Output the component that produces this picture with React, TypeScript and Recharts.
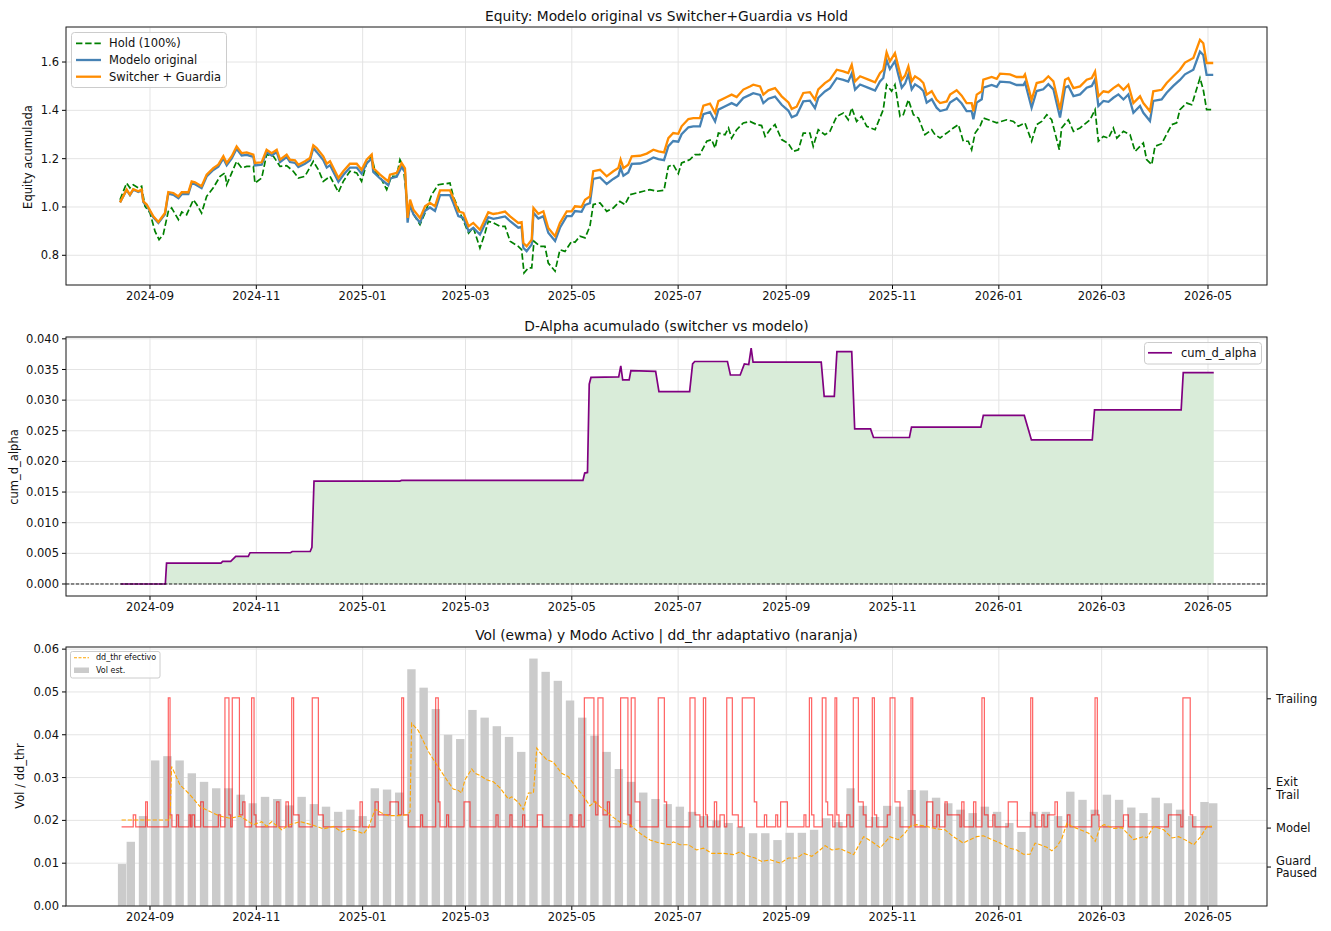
import React from 'react';
import { LineChart, ComposedChart, Line, Area, Bar, XAxis, YAxis, CartesianGrid, ReferenceLine } from 'recharts';

const FONT = "'DejaVu Sans', 'Liberation Sans', sans-serif";
const TXT = '#111111';

// x axis: days since 2024-09-01
const xTickDays = [0, 61, 122, 181, 242, 303, 365, 426, 487, 546, 607];
const xTickLabels = ['2024-09', '2024-11', '2025-01', '2025-03', '2025-05', '2025-07', '2025-09', '2025-11', '2026-01', '2026-03', '2026-05'];
const X_DOMAIN: [number, number] = [-48.19, 640.85];

// ---------- Panel 1: equity ----------
const eqTicks = [0.8, 1.0, 1.2, 1.4, 1.6];
const eqDays = [
  -17.2, -13.4, -11.5, -9.6, -6.7, -4.8, -3.8, -1.9, 1.9, 4.8,
  8.6, 10.5, 13.4, 16.3, 18.2, 22.0, 23.9, 25.8, 29.6, 32.5,
  36.3, 39.2, 42.1, 44.0, 46.9, 49.7, 52.6, 55.5, 59.3, 60.2,
  64.1, 66.9, 69.8, 72.7, 74.6, 78.4, 80.3, 83.2, 85.1, 88.9,
  91.8, 93.7, 95.6, 99.4, 101.4, 103.3, 108.1, 110.9, 114.7, 118.6,
  121.4, 124.3, 127.2, 128.1, 132.0, 136.7, 137.7, 141.5, 144.4, 146.3,
  147.8, 149.2, 151.1, 154.9, 157.8, 160.6, 163.5, 166.4, 172.1, 174.0,
  176.9, 179.8, 182.8, 185.5, 189.3, 191.2, 194.1, 197.0, 199.9, 203.7,
  206.6, 211.3, 213.2, 214.2, 216.1, 219.0, 220.0, 222.8, 225.7, 228.5,
  232.4, 235.2, 239.1, 241.9, 243.8, 247.6, 249.6, 252.4, 254.3, 258.2,
  262.0, 265.8, 268.7, 270.0, 271.6, 274.4, 276.4, 281.1, 285.0, 288.8,
  291.7, 294.9, 297.4, 300.2, 303.1, 305.0, 308.9, 311.7, 315.5, 317.5,
  321.3, 324.2, 326.1, 330.9, 333.7, 336.6, 340.4, 344.2, 346.1, 350.0,
  351.9, 354.8, 358.6, 362.4, 366.3, 368.2, 371.0, 374.8, 378.6, 381.5,
  383.4, 387.2, 390.1, 394.0, 397.8, 400.6, 402.6, 404.5, 407.4, 412.2,
  416.0, 418.8, 420.7, 422.6, 424.5, 427.4, 429.3, 431.3, 433.2, 435.1,
  437.0, 438.9, 441.8, 443.7, 445.6, 448.5, 451.3, 453.3, 457.1, 459.0,
  462.8, 465.7, 468.5, 471.4, 472.4, 474.3, 477.2, 478.1, 482.9, 485.8,
  487.7, 493.4, 497.2, 501.1, 502.0, 505.8, 508.7, 512.5, 515.4, 518.3,
  522.1, 525.0, 526.9, 529.8, 533.6, 537.4, 540.3, 542.2, 544.1, 547.0,
  549.9, 552.7, 555.6, 558.5, 561.3, 564.2, 568.0, 569.9, 573.7, 575.6,
  580.4, 583.3, 587.1, 590.9, 593.8, 598.6, 602.4, 604.3, 606.2, 610.0,
];
const switcherValues = [
  1.019, 1.072, 1.051, 1.074, 1.065, 1.072, 1.023, 1.010, 0.961, 0.938,
  0.975, 1.062, 1.058, 1.044, 1.061, 1.061, 1.106, 1.102, 1.086, 1.134,
  1.161, 1.175, 1.210, 1.182, 1.210, 1.251, 1.223, 1.226, 1.217, 1.182,
  1.185, 1.237, 1.223, 1.237, 1.196, 1.217, 1.196, 1.193, 1.175, 1.189,
  1.203, 1.255, 1.244, 1.210, 1.179, 1.189, 1.120, 1.148, 1.179, 1.179,
  1.154, 1.196, 1.217, 1.161, 1.134, 1.106, 1.134, 1.141, 1.182, 1.160,
  0.955, 1.030, 0.989, 0.954, 1.003, 1.017, 1.003, 1.069, 1.069, 1.037,
  0.982, 0.975, 0.920, 0.934, 0.906, 0.934, 0.978, 0.971, 0.975, 0.981,
  0.961, 0.934, 0.937, 0.851, 0.837, 0.865, 0.996, 0.972, 0.982, 0.913,
  0.879, 0.934, 0.982, 0.982, 1.003, 1.000, 1.030, 1.044, 1.148, 1.154,
  1.127, 1.148, 1.161, 1.196, 1.161, 1.175, 1.210, 1.212, 1.221, 1.237,
  1.230, 1.226, 1.285, 1.306, 1.303, 1.334, 1.364, 1.368, 1.368, 1.419,
  1.428, 1.389, 1.438, 1.455, 1.465, 1.455, 1.486, 1.499, 1.506, 1.499,
  1.465, 1.483, 1.492, 1.458, 1.433, 1.406, 1.415, 1.472, 1.475, 1.444,
  1.487, 1.513, 1.527, 1.568, 1.561, 1.554, 1.589, 1.520, 1.541, 1.527,
  1.516, 1.554, 1.568, 1.640, 1.603, 1.637, 1.582, 1.527, 1.544, 1.582,
  1.520, 1.541, 1.527, 1.513, 1.465, 1.479, 1.444, 1.430, 1.437, 1.465,
  1.483, 1.461, 1.430, 1.430, 1.396, 1.465, 1.479, 1.527, 1.538, 1.530,
  1.552, 1.549, 1.538, 1.538, 1.549, 1.444, 1.513, 1.520, 1.541, 1.520,
  1.403, 1.527, 1.534, 1.492, 1.499, 1.527, 1.534, 1.561, 1.458, 1.479,
  1.475, 1.492, 1.506, 1.485, 1.506, 1.430, 1.458, 1.430, 1.396, 1.479,
  1.485, 1.513, 1.541, 1.568, 1.598, 1.617, 1.692, 1.678, 1.596, 1.596,
];
const modelValues = [
  1.019, 1.070, 1.049, 1.072, 1.062, 1.068, 1.020, 1.006, 0.957, 0.934,
  0.970, 1.055, 1.050, 1.036, 1.053, 1.053, 1.098, 1.094, 1.078, 1.126,
  1.153, 1.167, 1.201, 1.173, 1.201, 1.241, 1.213, 1.216, 1.207, 1.172,
  1.175, 1.227, 1.213, 1.227, 1.186, 1.207, 1.186, 1.183, 1.165, 1.179,
  1.193, 1.244, 1.228, 1.194, 1.163, 1.173, 1.104, 1.132, 1.163, 1.163,
  1.138, 1.180, 1.201, 1.145, 1.118, 1.090, 1.118, 1.125, 1.166, 1.144,
  0.935, 1.011, 0.970, 0.935, 0.984, 0.998, 0.984, 1.049, 1.049, 1.017,
  0.962, 0.955, 0.900, 0.914, 0.886, 0.914, 0.958, 0.951, 0.955, 0.961,
  0.941, 0.914, 0.917, 0.831, 0.817, 0.845, 0.976, 0.952, 0.962, 0.893,
  0.859, 0.914, 0.962, 0.962, 0.983, 0.980, 1.008, 1.016, 1.116, 1.122,
  1.095, 1.116, 1.129, 1.162, 1.129, 1.143, 1.178, 1.180, 1.189, 1.205,
  1.198, 1.194, 1.252, 1.273, 1.270, 1.301, 1.330, 1.334, 1.334, 1.384,
  1.393, 1.354, 1.403, 1.420, 1.430, 1.420, 1.451, 1.464, 1.471, 1.464,
  1.430, 1.448, 1.457, 1.423, 1.398, 1.371, 1.380, 1.437, 1.440, 1.409,
  1.452, 1.478, 1.492, 1.533, 1.526, 1.519, 1.552, 1.486, 1.507, 1.493,
  1.482, 1.520, 1.534, 1.608, 1.571, 1.604, 1.549, 1.494, 1.511, 1.549,
  1.487, 1.508, 1.494, 1.480, 1.432, 1.446, 1.411, 1.397, 1.404, 1.432,
  1.450, 1.428, 1.397, 1.397, 1.363, 1.432, 1.446, 1.494, 1.505, 1.497,
  1.519, 1.516, 1.505, 1.505, 1.516, 1.411, 1.480, 1.487, 1.508, 1.487,
  1.370, 1.494, 1.501, 1.459, 1.466, 1.494, 1.501, 1.528, 1.418, 1.439,
  1.435, 1.452, 1.466, 1.445, 1.466, 1.390, 1.418, 1.390, 1.356, 1.439,
  1.445, 1.473, 1.501, 1.526, 1.549, 1.568, 1.643, 1.629, 1.547, 1.547,
];
const holdDays = [
  -17.2, -13.4, -11.5, -9.6, -6.7, -4.8, -2.9, 0, 2.9, 5.2,
  7.6, 10.5, 12.4, 16.3, 18.2, 21.0, 24.9, 26.8, 29.6, 32.5,
  36.3, 40.2, 43.0, 44.0, 46.9, 49.7, 52.6, 55.5, 59.3, 60.2,
  64.1, 66.9, 70.8, 74.6, 78.4, 82.2, 85.1, 88.9, 93.7, 96.6,
  99.4, 103.3, 108.1, 110.9, 114.7, 118.6, 121.4, 124.3, 127.2, 129.1,
  132.9, 135.8, 138.6, 141.5, 143.4, 145.3, 148.2, 149.2, 152.0, 154.9,
  157.8, 161.6, 165.4, 172.1, 174.0, 177.9, 182.8, 185.5, 189.3, 192.2,
  194.1, 197.0, 200.8, 203.7, 206.6, 211.3, 213.2, 214.6, 217.1, 219.0,
  220.3, 223.8, 226.6, 228.5, 232.4, 235.2, 238.1, 241.9, 243.8, 246.7,
  249.6, 252.4, 254.3, 258.2, 262.0, 265.8, 269.6, 272.5, 275.4, 279.2,
  283.0, 286.8, 290.7, 294.9, 297.4, 300.2, 303.1, 305.0, 309.8, 312.7,
  315.5, 319.4, 322.2, 324.2, 326.1, 329.9, 331.9, 333.7, 336.6, 340.4,
  344.2, 348.1, 350.9, 352.9, 355.7, 358.6, 362.4, 366.3, 369.1, 372.0,
  374.8, 378.6, 380.5, 383.4, 387.2, 390.1, 394.0, 397.8, 400.6, 402.6,
  405.4, 408.3, 411.2, 416.0, 420.7, 422.6, 425.5, 427.4, 430.3, 432.2,
  435.1, 438.0, 440.9, 442.7, 444.6, 448.5, 450.4, 453.3, 457.1, 460.9,
  463.8, 466.6, 469.5, 471.4, 473.4, 476.2, 478.1, 481.0, 485.8, 491.5,
  495.4, 498.2, 502.0, 505.8, 508.7, 511.6, 514.5, 517.3, 521.7, 523.0,
  526.9, 529.8, 533.6, 539.3, 542.2, 544.1, 547.0, 549.9, 552.7, 554.7,
  558.5, 562.3, 565.2, 568.0, 569.9, 571.8, 574.7, 576.6, 580.4, 586.2,
  589.0, 590.9, 594.8, 597.6, 598.6, 602.4, 604.3, 606.2, 610.0,
];
const holdValues = [
  1.030, 1.099, 1.079, 1.092, 1.079, 1.086, 1.003, 0.975, 0.899, 0.865,
  0.886, 0.982, 0.996, 0.948, 0.979, 0.968, 1.030, 1.010, 0.975, 1.044,
  1.079, 1.127, 1.141, 1.092, 1.141, 1.189, 1.161, 1.168, 1.168, 1.099,
  1.120, 1.217, 1.210, 1.168, 1.171, 1.148, 1.120, 1.127, 1.189, 1.154,
  1.106, 1.127, 1.061, 1.106, 1.148, 1.141, 1.106, 1.182, 1.210, 1.148,
  1.113, 1.072, 1.127, 1.127, 1.196, 1.168, 0.975, 1.003, 0.960, 0.927,
  0.975, 1.051, 1.092, 1.099, 1.044, 0.975, 0.892, 0.915, 0.830, 0.892,
  0.941, 0.934, 0.920, 0.920, 0.858, 0.837, 0.823, 0.727, 0.748, 0.748,
  0.858, 0.837, 0.837, 0.768, 0.734, 0.823, 0.816, 0.858, 0.854, 0.879,
  0.872, 0.920, 1.010, 1.017, 0.982, 0.996, 1.023, 1.010, 1.051, 1.058,
  1.065, 1.072, 1.065, 1.069, 1.168, 1.175, 1.138, 1.182, 1.196, 1.217,
  1.217, 1.272, 1.279, 1.244, 1.306, 1.299, 1.327, 1.285, 1.320, 1.348,
  1.354, 1.341, 1.337, 1.292, 1.320, 1.341, 1.279, 1.262, 1.230, 1.237,
  1.306, 1.306, 1.251, 1.320, 1.299, 1.313, 1.375, 1.389, 1.361, 1.410,
  1.354, 1.375, 1.334, 1.320, 1.403, 1.506, 1.479, 1.506, 1.375, 1.382,
  1.444, 1.382, 1.368, 1.334, 1.299, 1.320, 1.299, 1.286, 1.306, 1.327,
  1.341, 1.272, 1.272, 1.237, 1.306, 1.334, 1.368, 1.361, 1.348, 1.361,
  1.354, 1.334, 1.348, 1.272, 1.341, 1.354, 1.382, 1.361, 1.237, 1.327,
  1.361, 1.313, 1.327, 1.361, 1.403, 1.272, 1.292, 1.285, 1.327, 1.285,
  1.313, 1.299, 1.230, 1.251, 1.265, 1.196, 1.175, 1.251, 1.262, 1.341,
  1.348, 1.403, 1.430, 1.423, 1.444, 1.534, 1.485, 1.403, 1.403,
];

// ---------- Panel 2: cumulative d-alpha ----------
const alphaTicks = [0, 0.005, 0.01, 0.015, 0.02, 0.025, 0.03, 0.035, 0.04];
const alphaDays = [
  -16.8, 8.8, 9.5, 40.7, 41.7, 46.3, 49.2, 56.4, 57.4, 80.6,
  81.6, 91.9, 92.9, 94.1, 143.3, 144.3, 248.4, 249.4, 251.0, 252.0,
  253.0, 268.9, 270.1, 271.2, 274.9, 275.9, 290.1, 292.0, 309.6, 311.3,
  312.5, 331.3, 333.0, 338.6, 341.0, 343.5, 344.9, 346.0, 385.1, 386.8,
  392.6, 394.1, 402.6, 404.3, 413.4, 415.1, 435.7, 436.9, 476.7, 478.1,
  501.6, 505.7, 540.6, 541.9, 591.6, 592.8, 610.3,
];
const alphaValues = [
  0, 0, 0.0034, 0.0034, 0.0037, 0.0037, 0.0045, 0.0045, 0.0051, 0.0051,
  0.0053, 0.0053, 0.0060, 0.0168, 0.0168, 0.0169, 0.0169, 0.0181, 0.0182, 0.0326,
  0.0337, 0.0338, 0.0356, 0.0333, 0.0333, 0.0348, 0.0347, 0.0314, 0.0314, 0.0359,
  0.0363, 0.0363, 0.0341, 0.0341, 0.0359, 0.0358, 0.0385, 0.0362, 0.0362, 0.0306,
  0.0306, 0.0379, 0.0379, 0.0253, 0.0253, 0.0239, 0.0239, 0.0256, 0.0256, 0.0275,
  0.0275, 0.0235, 0.0235, 0.0284, 0.0284, 0.0345, 0.0345,
];

// ---------- Panel 3: vol, dd_thr, active mode ----------
const volTicks = [0, 0.01, 0.02, 0.03, 0.04, 0.05, 0.06];
const volDays = [
  -16, -11, -4, 3, 10, 17, 24, 31, 38, 45,
  52, 59, 66, 73, 80, 87, 94, 101, 108, 115,
  122, 129, 136, 143, 150, 157, 164, 171, 178, 185,
  192, 199, 206, 213, 220, 227, 234, 241, 248, 255,
  262, 269, 276, 283, 290, 297, 304, 311, 318, 325,
  332, 339, 346, 353, 360, 367, 374, 381, 388, 395,
  402, 409, 416, 423, 430, 437, 444, 451, 458, 465,
  472, 479, 486, 493, 500, 507, 514, 521, 528, 535,
  542, 549, 556, 563, 570, 577, 584, 591, 598, 605, 610,
];
const volValues = [
  0.0098, 0.0150, 0.0210, 0.0340, 0.0350, 0.0340, 0.0310, 0.0290, 0.0275, 0.0275,
  0.0260, 0.0240, 0.0255, 0.0250, 0.0235, 0.0255, 0.0238, 0.0232, 0.0220, 0.0225,
  0.0210, 0.0275, 0.0272, 0.0265, 0.0553, 0.0510, 0.0460, 0.0400, 0.0390, 0.0458,
  0.0440, 0.0420, 0.0395, 0.0360, 0.0578, 0.0547, 0.0526, 0.0480, 0.0440, 0.0398,
  0.0360, 0.0320, 0.0290, 0.0265, 0.0250, 0.0238, 0.0232, 0.0220, 0.0210, 0.0200,
  0.0194, 0.0185, 0.0170, 0.0170, 0.0154, 0.0171, 0.0171, 0.0178, 0.0205, 0.0196,
  0.0275, 0.0234, 0.0208, 0.0234, 0.0232, 0.0271, 0.0270, 0.0253, 0.0240, 0.0225,
  0.0217, 0.0232, 0.0220, 0.0194, 0.0173, 0.0220, 0.0220, 0.0210, 0.0267, 0.0248,
  0.0225, 0.0260, 0.0248, 0.0230, 0.0217, 0.0253, 0.0240, 0.0225, 0.0210, 0.0243, 0.0240,
];
const thrDays = [
  -16.3, 11.5, 12.4, 17.2, 22.9, 28.7, 36.3, 40.2, 45.9, 51.6,
  59.3, 64.1, 66.9, 69.8, 75.6, 80.3, 86.1, 92.8, 99.5, 105.2,
  110.0, 113.9, 118.7, 122.5, 125.3, 129.2, 133.0, 136.8, 142.6, 147.3,
  149.2, 150.1, 153.9, 159.7, 164.5, 170.2, 174.0, 176.9, 178.8, 180.7,
  184.6, 186.5, 189.3, 193.2, 197.0, 200.8, 205.6, 207.5, 211.4, 214.2,
  217.1, 220.0, 221.9, 223.8, 227.6, 231.4, 236.2, 240.0, 244.8, 248.6,
  252.4, 255.3, 258.2, 262.0, 265.8, 270.6, 275.4, 281.1, 286.9, 292.6,
  298.4, 300.2, 304.1, 308.9, 313.6, 317.5, 322.3, 329.0, 334.8, 338.6,
  342.4, 347.2, 351.0, 355.8, 361.6, 366.3, 371.1, 375.0, 379.7, 383.6,
  387.4, 391.2, 396.0, 403.7, 409.4, 414.2, 419.0, 424.5, 429.3, 433.1,
  436.0, 439.8, 445.6, 451.3, 456.1, 460.9, 466.6, 470.4, 474.3, 478.1,
  481.9, 487.7, 493.4, 497.3, 501.1, 504.9, 507.8, 510.7, 514.5, 517.4,
  520.3, 523.1, 526.0, 528.9, 533.7, 538.5, 542.3, 545.2, 547.5, 552.9,
  557.6, 564.4, 570.1, 572.0, 575.8, 581.6, 586.4, 590.2, 595.0, 598.8,
  602.6, 606.5, 609.3,
];
const thrValues = [
  0.0201, 0.0201, 0.0326, 0.0283, 0.0260, 0.0232, 0.0217, 0.0210, 0.0205, 0.0210,
  0.0190, 0.0197, 0.0186, 0.0197, 0.0178, 0.0190, 0.0197, 0.0190, 0.0180, 0.0186,
  0.0173, 0.0180, 0.0175, 0.0169, 0.0183, 0.0226, 0.0217, 0.0211, 0.0211, 0.0213,
  0.0220, 0.0427, 0.0410, 0.0361, 0.0330, 0.0295, 0.0273, 0.0270, 0.0264, 0.0295,
  0.0320, 0.0310, 0.0305, 0.0295, 0.0290, 0.0276, 0.0250, 0.0255, 0.0242, 0.0225,
  0.0264, 0.0264, 0.0369, 0.0358, 0.0342, 0.0336, 0.0310, 0.0302, 0.0276, 0.0257,
  0.0234, 0.0244, 0.0232, 0.0221, 0.0207, 0.0193, 0.0190, 0.0170, 0.0154, 0.0147,
  0.0143, 0.0150, 0.0143, 0.0143, 0.0131, 0.0135, 0.0123, 0.0123, 0.0120, 0.0127,
  0.0118, 0.0112, 0.0104, 0.0108, 0.0100, 0.0112, 0.0112, 0.0123, 0.0116, 0.0128,
  0.0141, 0.0131, 0.0134, 0.0120, 0.0162, 0.0150, 0.0136, 0.0162, 0.0155, 0.0170,
  0.0186, 0.0190, 0.0186, 0.0180, 0.0178, 0.0162, 0.0147, 0.0155, 0.0162, 0.0164,
  0.0157, 0.0147, 0.0135, 0.0131, 0.0121, 0.0121, 0.0147, 0.0143, 0.0137, 0.0129,
  0.0139, 0.0157, 0.0193, 0.0186, 0.0178, 0.0170, 0.0151, 0.0186, 0.0190, 0.0181,
  0.0183, 0.0155, 0.0162, 0.0159, 0.0186, 0.0178, 0.0159, 0.0162, 0.0152, 0.0143,
  0.0161, 0.0186, 0.0186,
];
// active mode: 0 = Model, 1 / 2 = intermediate, 3 = Trailing (plotted in left-axis units)
const modeLevelValues = [0.0185, 0.0213, 0.0243, 0.0486];
const modeDays = [
  -16.3, -9.6, -8.2, -2.5, -1.5, 10.5, 11.5, 12.6, 15.3, 16.4,
  22.4, 23.3, 24.1, 25.6, 29.1, 30.6, 39.2, 40.5, 43.0, 45.3,
  46.3, 47.2, 51.3, 53.2, 54.5, 58.3, 59.7, 60.8, 72.7, 74.0,
  78.0, 79.4, 81.3, 82.4, 85.5, 93.1, 96.6, 99.4, 120.5, 121.8,
  129.1, 131.0, 137.7, 142.5, 144.4, 145.5, 148.2, 155.3, 156.4, 163.9,
  165.4, 166.4, 170.2, 171.3, 180.2, 183.6, 198.5, 199.7, 206.5, 207.7,
  213.8, 215.0, 222.2, 225.3, 241.0, 242.1, 246.1, 247.3, 249.2, 254.7,
  255.7, 257.0, 259.9, 262.4, 263.6, 270.0, 274.2, 275.4, 276.1, 278.3,
  281.1, 291.6, 295.1, 296.4, 309.8, 312.7, 315.5, 317.5, 318.8, 319.8,
  323.8, 325.1, 327.0, 329.5, 330.9, 334.1, 337.5, 339.8, 346.7, 348.1,
  352.5, 353.8, 359.0, 360.1, 361.8, 365.7, 375.2, 376.3, 378.3, 379.6,
  380.9, 385.7, 387.8, 388.8, 391.7, 393.0, 394.0, 395.3, 399.7, 401.6,
  403.5, 406.4, 409.2, 410.8, 414.4, 415.6, 416.9, 423.0, 424.6, 427.4,
  430.3, 436.6, 437.6, 438.9, 445.6, 449.1, 451.4, 452.9, 456.1, 457.4,
  464.7, 465.7, 467.0, 472.5, 473.8, 477.3, 478.7, 480.8, 483.5, 484.8,
  492.4, 497.6, 505.3, 506.4, 507.8, 511.6, 512.9, 515.0, 519.2, 520.6,
  526.3, 527.8, 540.3, 542.2, 543.5, 544.5, 558.5, 561.3, 584.3, 591.4,
  592.6, 596.8, 598.2, 609.3,
];
const modeLevels = [
  0, 1, 0, 2, 0, 3, 1, 0, 1, 0,
  1, 0, 1, 0, 2, 0, 1, 0, 3, 1,
  0, 3, 1, 2, 0, 3, 1, 0, 2, 0,
  2, 0, 3, 1, 0, 3, 1, 0, 2, 0,
  2, 1, 2, 1, 3, 1, 0, 1, 0, 3,
  2, 0, 1, 0, 2, 0, 1, 0, 1, 0,
  1, 0, 1, 0, 1, 0, 1, 0, 3, 2,
  1, 3, 1, 2, 0, 3, 1, 0, 3, 2,
  0, 3, 2, 0, 3, 1, 0, 3, 1, 0,
  2, 0, 1, 0, 3, 1, 0, 3, 2, 0,
  1, 0, 1, 0, 2, 0, 1, 0, 3, 1,
  0, 3, 2, 1, 0, 3, 1, 0, 1, 0,
  3, 2, 1, 0, 3, 1, 0, 1, 3, 2,
  0, 3, 1, 0, 2, 0, 1, 0, 2, 1,
  0, 2, 0, 2, 0, 3, 1, 0, 1, 0,
  2, 0, 3, 1, 0, 1, 0, 1, 2, 0,
  1, 0, 1, 3, 1, 0, 1, 0, 1, 0,
  3, 1, 0, 0,
];
const rightTickValues = [0.0091, 0.0182, 0.0274, 0.0484];
const rightTickLabels = ['Guard\nPaused', 'Model', 'Exit\nTrail', 'Trailing'];

// ---------- helpers ----------
const zip = (xs: number[], ys: number[], key: string) =>
  xs.slice(0, Math.min(xs.length, ys.length)).map((t, i) => ({ t, [key]: ys[i] }));

const holdData = zip(holdDays, holdValues, 'v');
const modelData = zip(eqDays, modelValues, 'v');
const switcherData = zip(eqDays, switcherValues, 'v');
const alphaData = zip(alphaDays, alphaValues, 'a');
const volData = zip(volDays, volValues, 'vol');
const thrData = zip(thrDays, thrValues, 'd');
const modeData = zip(modeDays, modeLevels.map((l) => modeLevelValues[l]), 'm');

const fmtX = (v: number) => {
  const i = xTickDays.findIndex((d) => Math.abs(d - v) < 0.01);
  return i >= 0 ? xTickLabels[i] : '';
};

const RightTick = (props: any) => {
  const { x, y, payload } = props;
  const idx = rightTickValues.findIndex((r) => Math.abs(r - payload.value) < 1e-6);
  const lines = (idx >= 0 ? rightTickLabels[idx] : '').split('\n');
  const lh = 12.8;
  const y0 = y - ((lines.length - 1) * lh) / 2 + 4;
  return (
    <text x={x} y={y0} fill={TXT} fontSize={11.5} fontFamily={FONT} textAnchor="start">
      {lines.map((l, i) => (
        <tspan key={i} x={x} y={y0 + i * lh}>{l}</tspan>
      ))}
    </text>
  );
};

// weekly vol bar: fixed 8px width, centred on the scaled x position
const VolBar = (props: any) => {
  const { x, y, width, height, fill } = props;
  if (x == null || y == null || !height || height <= 0) return null;
  const cx = x + (width || 0) / 2;
  return <rect x={cx - 4.2} y={y} width={8.4} height={height} fill={fill} />;
};

const tickStyle = { fill: TXT, fontSize: 11.5, fontFamily: FONT };
const GRID = '#e4e4e4';

export default function App() {
  const xAxis = (h: number) => (
    <XAxis
      dataKey="t"
      type="number"
      domain={X_DOMAIN}
      allowDataOverflow
      ticks={xTickDays}
      interval={0}
      tickFormatter={fmtX}
      height={h}
      tickSize={4}
      tickMargin={3}
      tick={tickStyle}
      axisLine={false}
      tickLine={{ stroke: '#000' }}
    />
  );
  return (
    <div style={{ position: 'absolute', left: 0, top: 0, width: 1331, height: 931, background: '#fff', overflow: 'hidden' }}>
      {/* Panel 1 */}
      <div style={{ position: 'absolute', left: 0, top: 0 }}>
        <LineChart width={1331} height={310} margin={{ top: 27, right: 64, bottom: 0, left: 0 }}>
          <CartesianGrid stroke={GRID} />
          {xAxis(25)}
          <YAxis
            type="number"
            domain={[0.677, 1.745]}
            allowDataOverflow
            ticks={eqTicks}
            interval={0}
            tickFormatter={(v: number) => v.toFixed(1)}
            width={66}
            tickSize={4}
            tickMargin={3}
            tick={tickStyle}
            axisLine={false}
            tickLine={{ stroke: '#000' }}
          />
          <Line data={holdData} dataKey="v" type="linear" stroke="#008000" strokeWidth={1.7} strokeDasharray="6.4 2.8" dot={false} activeDot={false} isAnimationActive={false} />
          <Line data={modelData} dataKey="v" type="linear" stroke="#4682b4" strokeWidth={2.3} dot={false} activeDot={false} isAnimationActive={false} />
          <Line data={switcherData} dataKey="v" type="linear" stroke="#ff8c00" strokeWidth={2.3} dot={false} activeDot={false} isAnimationActive={false} />
        </LineChart>
      </div>

      {/* Panel 2 */}
      <div style={{ position: 'absolute', left: 0, top: 310 }}>
        <ComposedChart width={1331} height={310} data={alphaData} margin={{ top: 27, right: 64, bottom: 0, left: 0 }}>
          <CartesianGrid stroke={GRID} />
          {xAxis(24)}
          <YAxis
            type="number"
            domain={[-0.00196, 0.0403]}
            allowDataOverflow
            ticks={alphaTicks}
            interval={0}
            tickFormatter={(v: number) => v.toFixed(3)}
            width={66}
            tickSize={4}
            tickMargin={3}
            tick={tickStyle}
            axisLine={false}
            tickLine={{ stroke: '#000' }}
          />
          <Area dataKey="a" type="linear" baseValue={0} stroke="#800080" strokeWidth={1.7} fill="#d9ecd9" fillOpacity={1} dot={false} activeDot={false} isAnimationActive={false} />
          <ReferenceLine y={0} stroke="#000" strokeWidth={0.9} strokeDasharray="3.4 1.5" />
        </ComposedChart>
      </div>

      {/* Panel 3 */}
      <div style={{ position: 'absolute', left: 0, top: 620 }}>
        <ComposedChart width={1331} height={311} data={volData} margin={{ top: 27, right: 0, bottom: 0, left: 0 }}>
          <CartesianGrid stroke={GRID} yAxisId="left" />
          {xAxis(25)}
          <YAxis
            yAxisId="left"
            type="number"
            domain={[0, 0.0605]}
            allowDataOverflow
            ticks={volTicks}
            interval={0}
            tickFormatter={(v: number) => v.toFixed(2)}
            width={66}
            tickSize={4}
            tickMargin={3}
            tick={tickStyle}
            axisLine={false}
            tickLine={{ stroke: '#000' }}
          />
          <YAxis
            yAxisId="right"
            orientation="right"
            type="number"
            domain={[0, 0.0605]}
            allowDataOverflow
            ticks={rightTickValues}
            interval={0}
            width={64}
            tickSize={4}
            tickMargin={5}
            tick={<RightTick />}
            axisLine={false}
            tickLine={{ stroke: '#000' }}
          />
          <Bar yAxisId="left" dataKey="vol" fill="#cbcbcb" barSize={8} shape={<VolBar />} isAnimationActive={false} />
          <Line yAxisId="left" data={modeData} dataKey="m" type="stepAfter" stroke="#ff0000" strokeOpacity={0.62} strokeWidth={1.2} dot={false} activeDot={false} isAnimationActive={false} />
          <Line yAxisId="left" data={thrData} dataKey="d" type="linear" stroke="#ffa500" strokeWidth={1.1} strokeDasharray="4.3 1.9" dot={false} activeDot={false} isAnimationActive={false} />
        </ComposedChart>
      </div>

      {/* Frames, titles, labels, legends */}
      <svg width={1331} height={931} style={{ position: 'absolute', left: 0, top: 0, pointerEvents: 'none' }} fontFamily={FONT}>
        <rect x={66} y={27} width={1201} height={258} fill="none" stroke="#222" strokeWidth={1} />
        <rect x={66} y={337} width={1201} height={259} fill="none" stroke="#222" strokeWidth={1} />
        <rect x={66} y={647} width={1201} height={259} fill="none" stroke="#222" strokeWidth={1} />

        <text x={666.5} y={16} fontSize={13.8} fill={TXT} textAnchor="middle" dominantBaseline="central">Equity: Modelo original vs Switcher+Guardia vs Hold</text>
        <text x={666.5} y={326} fontSize={13.8} fill={TXT} textAnchor="middle" dominantBaseline="central">D-Alpha acumulado (switcher vs modelo)</text>
        <text x={666.5} y={635} fontSize={13.8} fill={TXT} textAnchor="middle" dominantBaseline="central">Vol (ewma) y Modo Activo | dd_thr adaptativo (naranja)</text>

        <text transform="translate(28,157) rotate(-90)" fontSize={11.5} fill={TXT} textAnchor="middle" dominantBaseline="central">Equity acumulada</text>
        <text transform="translate(14,467) rotate(-90)" fontSize={11.5} fill={TXT} textAnchor="middle" dominantBaseline="central">cum_d_alpha</text>
        <text transform="translate(20,776) rotate(-90)" fontSize={11.5} fill={TXT} textAnchor="middle" dominantBaseline="central">Vol / dd_thr</text>

        {/* legend panel 1 */}
        <rect x={71.5} y={32.5} width={155} height={55} rx={3} fill="#fff" fillOpacity={0.85} stroke="#cccccc" strokeWidth={1} />
        <line x1={76} x2={101} y1={43.3} y2={43.3} stroke="#008000" strokeWidth={1.7} strokeDasharray="6.4 2.8" />
        <text x={109} y={43.3} fontSize={11.5} fill={TXT} dominantBaseline="central">Hold (100%)</text>
        <line x1={76} x2={101} y1={60} y2={60} stroke="#4682b4" strokeWidth={2.3} />
        <text x={109} y={60} fontSize={11.5} fill={TXT} dominantBaseline="central">Modelo original</text>
        <line x1={76} x2={101} y1={76.7} y2={76.7} stroke="#ff8c00" strokeWidth={2.3} />
        <text x={109} y={76.7} fontSize={11.5} fill={TXT} dominantBaseline="central">Switcher + Guardia</text>

        {/* legend panel 2 */}
        <rect x={1144.5} y={342.5} width={117} height={21.5} rx={3} fill="#fff" fillOpacity={0.85} stroke="#cccccc" strokeWidth={1} />
        <line x1={1148} x2={1172} y1={352.8} y2={352.8} stroke="#800080" strokeWidth={1.7} />
        <text x={1181} y={352.8} fontSize={11.5} fill={TXT} dominantBaseline="central">cum_d_alpha</text>

        {/* legend panel 3 */}
        <rect x={70.5} y={651.5} width={89.5} height={26.5} rx={2} fill="#fff" fillOpacity={0.85} stroke="#cccccc" strokeWidth={1} />
        <line x1={74} x2={89} y1={657.8} y2={657.8} stroke="#ffa500" strokeWidth={1.1} strokeDasharray="3 1.5" />
        <text x={96} y={657.8} fontSize={8} fill={TXT} dominantBaseline="central">dd_thr efectivo</text>
        <rect x={74} y={667.5} width={15} height={5.5} fill="#cbcbcb" />
        <text x={96} y={670.2} fontSize={8} fill={TXT} dominantBaseline="central">Vol est.</text>
      </svg>
    </div>
  );
}
